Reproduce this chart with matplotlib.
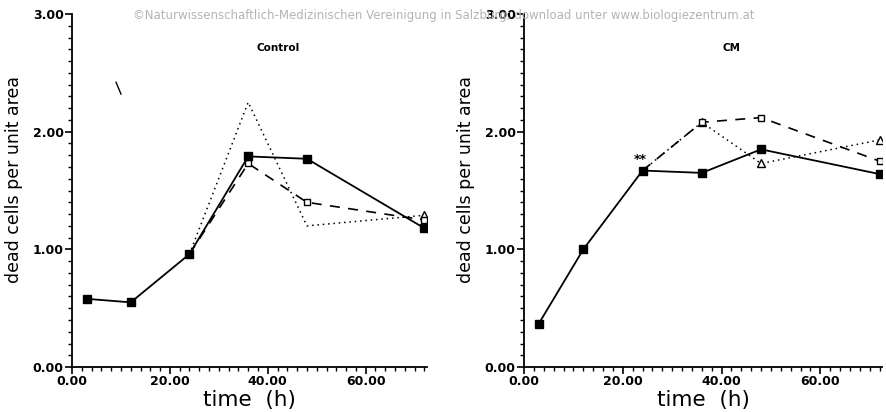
import matplotlib.pyplot as plt
from matplotlib.ticker import MultipleLocator, FormatStrFormatter

# Control panel
ctrl_t = [3, 12, 24, 36, 48, 72]
ctrl_solid = [0.58, 0.55, 0.96, 1.79, 1.77, 1.18]
ctrl_dash_t = [24, 36, 48, 72]
ctrl_dash = [0.96, 1.73, 1.40, 1.25]
ctrl_dot_t = [24, 36, 48, 72]
ctrl_dot = [0.96, 2.25, 1.20, 1.29]

# CM panel
cm_t = [3, 12, 24, 36, 48, 72]
cm_solid = [0.37, 1.00, 1.67, 1.65, 1.85, 1.64]
cm_dash_t = [24, 36, 48, 72]
cm_dash = [1.67, 2.08, 2.12, 1.75]
cm_dot_t = [24, 36, 48, 72]
cm_dot = [1.67, 2.08, 1.73, 1.93]

titles = ['Control', 'CM']

fig = plt.figure(figsize=(8.87, 4.12), dpi=100)
ax1 = fig.add_axes([0.0812, 0.109, 0.400, 0.857])
ax2 = fig.add_axes([0.5908, 0.109, 0.4036, 0.857])

panels = [
    (ax1, ctrl_t, ctrl_solid, ctrl_dash_t, ctrl_dash, ctrl_dot_t, ctrl_dot, [36, 48, 72], [72]),
    (ax2, cm_t, cm_solid, cm_dash_t, cm_dash, cm_dot_t, cm_dot, [36, 48, 72], [36, 48, 72]),
]

for i, (ax, t, s, dt, d, ot, o, dmark, omark) in enumerate(panels):
    ax.plot(ot, o, ls=(0, (1, 2.5)), lw=1.1, c='k', zorder=2)
    ax.plot([x for x in ot if x in omark], [y for x, y in zip(ot, o) if x in omark],
            ls='none', marker='^', ms=6, mfc='white', mec='k', mew=1.0, zorder=3)
    ax.plot(dt, d, ls=(0, (6, 5)), lw=1.2, c='k', zorder=2)
    ax.plot([x for x in dt if x in dmark], [y for x, y in zip(dt, d) if x in dmark],
            ls='none', marker='s', ms=5, mfc='white', mec='k', mew=1.0, zorder=3)
    ax.plot(t, s, ls='-', lw=1.3, c='k', marker='s', ms=6, mfc='k', mec='k', zorder=4)

    ax.set_xlim(0, 72.5)
    ax.set_ylim(0, 3)
    ax.spines['top'].set_visible(False)
    ax.spines['right'].set_visible(False)
    ax.spines['left'].set_linewidth(1.3)
    ax.spines['bottom'].set_linewidth(1.3)
    ax.xaxis.set_major_locator(MultipleLocator(20))
    ax.xaxis.set_minor_locator(MultipleLocator(2))
    ax.yaxis.set_major_locator(MultipleLocator(1))
    ax.yaxis.set_minor_locator(MultipleLocator(0.1))
    ax.xaxis.set_major_formatter(FormatStrFormatter('%.2f'))
    ax.yaxis.set_major_formatter(FormatStrFormatter('%.2f'))
    ax.tick_params(which='major', length=5, width=1.2, labelsize=9, pad=1)
    ax.tick_params(which='minor', length=3, width=1.0)
    for lab in ax.get_xticklabels() + ax.get_yticklabels():
        lab.set_fontweight('bold')
    ax.set_ylabel('dead cells per unit area', fontsize=12.5)
    ax.yaxis.set_label_coords(-0.138, 0.53)
    ax.set_xlabel('time  (h)', fontsize=15.5, labelpad=1)
    ax.text(0.58, 0.905, titles[i], transform=ax.transAxes, fontsize=7.5,
            fontweight='bold', ha='center', va='center')

ax2.text(23.5, 1.76, '**', fontsize=9, fontweight='bold', ha='center', va='center')
# stray scan mark in control panel
ax1.plot([9.0, 10.0], [2.42, 2.32], c='k', lw=1.0)

fig.text(0.5, 0.962,
         '\u00a9Naturwissenschaftlich-Medizinischen Vereinigung in Salzburg; download unter www.biologiezentrum.at',
         ha='center', va='center', fontsize=8.5, color='#b4b4b4')

fig.savefig('out.png', dpi=100)
